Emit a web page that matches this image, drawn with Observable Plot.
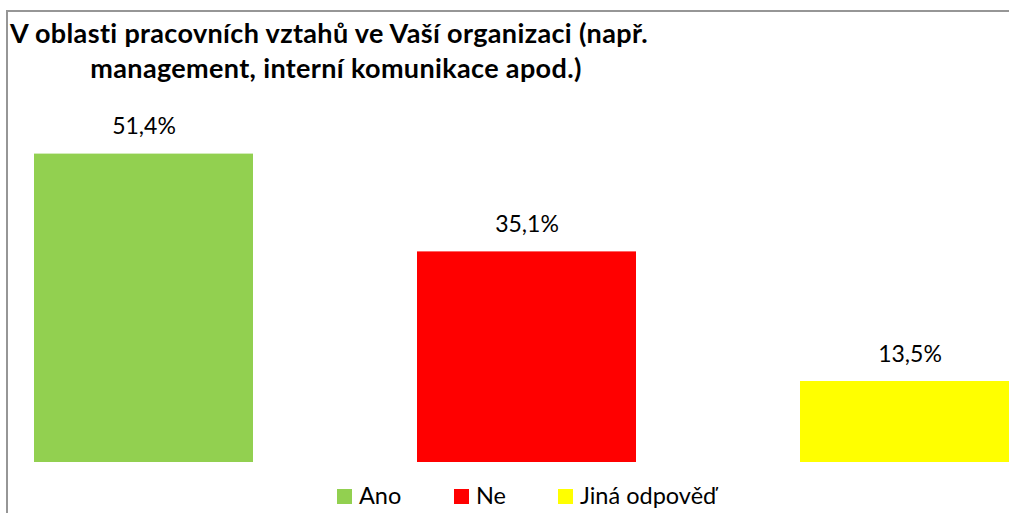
<!DOCTYPE html>
<html>
<head>
<meta charset="utf-8">
<script src="https://cdn.jsdelivr.net/npm/d3@7"></script>
<script src="https://cdn.jsdelivr.net/npm/@observablehq/plot@0.6"></script>
<style>
  html, body { margin: 0; padding: 0; width: 1009px; height: 513px; overflow: hidden; background: #fff; }
  #wrap { position: relative; width: 1009px; height: 513px; overflow: hidden; font-family: Lato, "Open Sans", sans-serif; }
  #frame { position: absolute; left: 6px; top: 10px; width: 1100px; height: 600px; border-left: 2px solid #969696; border-top: 2px solid #969696; box-sizing: border-box; }
  #title { position: absolute; left: 10px; top: 15px; width: 652px; text-align: center; font-family: Lato, sans-serif; font-weight: bold; font-size: 27px; letter-spacing: 0.35px; line-height: 35px; color: #000; }
  #title .l1 { display: block; text-align: left; white-space: nowrap; }
  #chart { position: absolute; left: 0; top: 0; }
  #legend { position: absolute; left: 0; top: 481px; width: 1009px; height: 30px; font-size: 23.5px; line-height: 28px; color: #000; white-space: nowrap; }
  #legend .item { position: absolute; top: 0; display: flex; align-items: center; }
  #legend .sw { width: 15px; height: 15px; display: inline-block; margin-right: 7px; margin-top: 3px; }
</style>
</head>
<body>
<div id="wrap">
  <div id="frame"></div>
  <div id="chart"></div>
  <div id="title"><span class="l1">V oblasti pracovních vztahů ve Vaší organizaci (např.</span>management, interní komunikace apod.)</div>
  <div id="legend"></div>
</div>
<script>
const categories = ["Ano", "Ne", "Jiná odpověď"];
const values = [51.4, 35.1, 13.5];
const colors = ["#92D050", "#FF0000", "#FFFF00"];

const data = categories.map((c, i) => ({category: c, value: values[i]}));
const fmt = v => v.toFixed(1).replace(".", ",") + "%";

const plot = Plot.plot({
  width: 1009,
  height: 513,
  marginTop: 0, marginBottom: 0, marginLeft: 0, marginRight: 0,
  style: {background: "transparent", overflow: "visible", fontFamily: "Lato, 'Open Sans', sans-serif"},
  x: {domain: categories, range: [34, 1019], paddingInner: 0.4282, paddingOuter: 0, align: 0, round: false, axis: null},
  y: {domain: [0, 60], range: [462, 102], axis: null},
  color: {domain: categories, range: colors},
  marks: [
    Plot.barY(data, {x: "category", y: "value", fill: "category"}),
    Plot.text(data, {x: "category", y: "value", text: d => fmt(d.value), lineAnchor: "bottom", dy: -20, fontSize: 23, fill: "#000"})
  ]
});
document.getElementById("chart").appendChild(plot);

const legend = document.getElementById("legend");
const legendX = [337, 454, 558];
categories.forEach((c, i) => {
  const item = document.createElement("span");
  item.className = "item";
  item.style.left = legendX[i] + "px";
  const sw = document.createElement("span");
  sw.className = "sw";
  sw.style.background = colors[i];
  item.appendChild(sw);
  item.appendChild(document.createTextNode(c));
  legend.appendChild(item);
});
</script>
</body>
</html>
